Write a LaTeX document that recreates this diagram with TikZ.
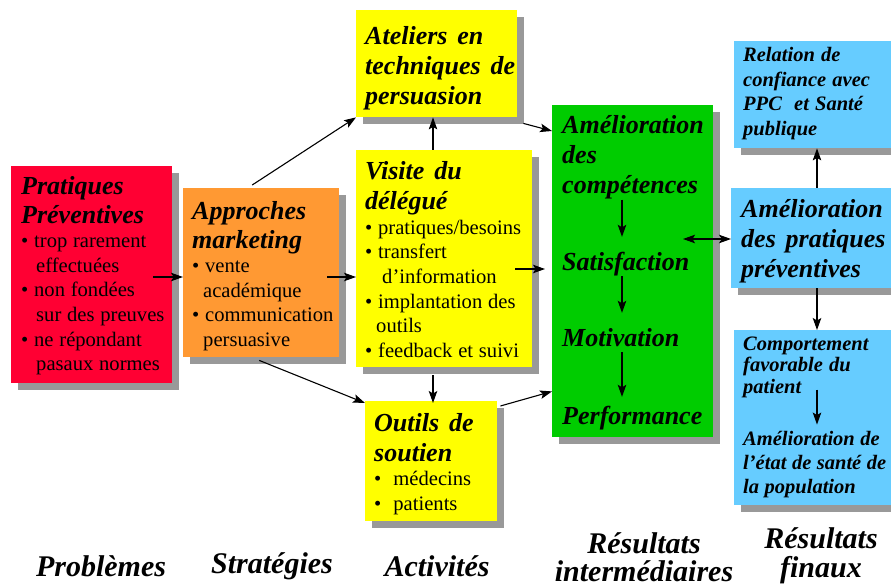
\documentclass[tikz,border=0pt]{standalone}
\usepackage{fontspec}
\setmainfont{Liberation Serif}
\usetikzlibrary{arrows.meta,shadows}
\definecolor{cred}{HTML}{FF0033}
\definecolor{corange}{HTML}{FF9933}
\definecolor{cyellow}{HTML}{FFFF00}
\definecolor{cgreen}{HTML}{00CC00}
\definecolor{cblue}{HTML}{66CCFF}
\definecolor{cshadow}{HTML}{999999}
\newcommand\hdfont[3]{\fontsize{#1}{#2}\selectfont\bfseries\itshape\spaceskip=#3em plus 0.1em\relax}
\newcommand\hd[1]{{\hdfont{26}{30}{0.38}#1\par}}
\newcommand\bl[1]{{\fontsize{20.6}{24.5}\selectfont\spaceskip=0.28em plus 0.1em\relax #1\par}}
\newcommand\cont{\hspace*{15pt}}
\begin{document}
\begin{tikzpicture}[x=1pt,y=-1pt,
  box/.style={anchor=north west, inner sep=0pt, draw=none,
    copy shadow={shadow xshift=7pt, shadow yshift=-7pt, fill=cshadow, draw=none}},
  txt/.style={anchor=base west, inner sep=0pt, align=left, text width=#1},
  txt/.default=190pt,
  lab/.style={inner sep=0pt, align=center, font=\fontsize{30}{28.5}\selectfont\bfseries\itshape},
  arr/.style={line width=1.1pt, -{Stealth[length=12pt,width=8.5pt,inset=2.5pt]}},
  darr/.style={line width=1.1pt, {Stealth[length=12pt,width=8.5pt,inset=2.5pt]}-{Stealth[length=12pt,width=8.5pt,inset=2.5pt]}}
]
\useasboundingbox (0,0) rectangle (891,588);
\clip (0,0) rectangle (891,588);

% boxes
\node[box, fill=cred, minimum width=161pt, minimum height=217pt] (red) at (11,166) {};
\node[box, fill=corange, minimum width=156pt, minimum height=169pt] (orange) at (183,188) {};
\node[box, fill=cyellow, minimum width=161pt, minimum height=107pt] (ateliers) at (356,10) {};
\node[box, fill=cyellow, minimum width=176pt, minimum height=217pt] (visite) at (356,150) {};
\node[box, fill=cyellow, minimum width=132pt, minimum height=120pt] (outils) at (365,401) {};
\node[box, fill=cgreen, minimum width=161pt, minimum height=332pt] (green) at (552,105) {};
\node[box, fill=cblue, minimum width=170pt, minimum height=107pt] (bt) at (734,41) {};
\node[box, fill=cblue, minimum width=173pt, minimum height=100pt] (bm) at (731,188) {};
\node[box, fill=cblue, minimum width=170pt, minimum height=175pt] (bb) at (734,330) {};

% texts
\node[txt] (redt) at (21,195) {{\hdfont{26}{28.5}{0.38}Pratiques\\Préventives\par}%
  \bl{• trop rarement\\\cont effectuées\\• non fondées\\\cont sur des preuves\\• ne répondant\\\cont pasaux normes}};
\node[txt] (orat) at (192,219) {{\hdfont{26}{29}{0.38}Approches\\marketing\par}%
  \bl{• vente\\\hspace*{11pt}académique\\• communication\\\hspace*{11pt}persuasive}};
\node[txt] (atet) at (365,45) {\hd{Ateliers en\\techniques de\\persuasion}};
\node[txt] (vist) at (365,180) {\hd{Visite du\\délégué}%
  \bl{• pratiques/besoins\\• transfert\\\hspace*{17pt}d’information\\• implantation des\\\hspace*{11pt}outils\\• feedback et suivi}};
\node[txt] (outt) at (374,431) {\hd{Outils de\\soutien}%
  \bl{•\hspace{12pt}médecins\\•\hspace{12pt}patients}};

\node[txt] (g1) at (562,134) {\hd{Amélioration\\des\\compétences}};
\node[txt, text height=18pt, text depth=6pt] (g2) at (562,270) {\hd{Satisfaction}};
\node[txt, text height=18pt, text depth=6pt] (g3) at (562,346) {\hd{Motivation}};
\node[txt, text height=18pt, text depth=6pt] (g4) at (562,424) {\hd{Performance}};

\node[txt] (btt) at (743,62) {{\hdfont{20.5}{24.5}{0.3}Relation de\\confiance avec\\PPC\ \ et Santé\\publique\par}};
\node[txt] (bmt) at (741,217) {\hd{Amélioration\\des pratiques\\préventives}};
\node[txt] (b1) at (743,350) {{\hdfont{20.5}{21.5}{0.3}Comportement\\favorable du\\patient\par}};
\node[txt] (b2) at (743,445) {{\hdfont{20.5}{24}{0.27}Amélioration de\\l’état de santé de\\la population\par}};

% bottom labels
\node[lab] (l1) at (101,566) {Problèmes};
\node[lab] (l2) at (272,566) {Stratégies};
\node[lab] (l3) at (437,566) {Activités};
\node[lab] (l4) at (644,557) {Résultats\\intermédiaires};
\node[lab] (l5) at (821,556) {Résultats\\finaux};

% helper coordinates
\coordinate (rs) at (153,277);
\coordinate (os) at (327,277);
\coordinate (vs) at (515,269);
\coordinate (vx) at (433,0);
\coordinate (ga) at (622,0);
\coordinate (bx) at (817,0);
\coordinate (dl) at (683,239);

% connectors
\draw[arr] (rs) -- (rs -| orange.west);
\draw[arr] (os) -- (os -| visite.west);
\draw[arr] ([shift={(-9,-3)}]orange.north) -- (ateliers.south west);
\draw[arr] ([shift={(-2,3)}]orange.south) -- ([shift={(0,2)}]outils.north west);
\draw[arr] (visite.north -| vx) -- (ateliers.south -| vx);
\draw[arr] ([shift={(0,8)}]visite.south -| vx) -- ([shift={(0,2)}]outils.north -| vx);
\draw[arr] ([shift={(6,6)}]ateliers.south east) -- ([shift={(0,26)}]green.north west);
\draw[arr] (vs) -- ([shift={(-7,0)}]vs -| green.west);
\draw[arr] ([shift={(3,5)}]outils.north east) -- ([shift={(0,-46)}]green.south west);

\draw[arr, shorten >=15pt] (g1.south -| ga) -- (g2.north -| ga);
\draw[arr, shorten >=15pt] (g2.south -| ga) -- (g3.north -| ga);
\draw[arr, shorten >=9pt] (g3.south -| ga) -- (g4.north -| ga);

\draw[darr] (dl) -- (dl -| bm.west);
\draw[arr] (bm.north -| bx) -- (bt.south -| bx);
\draw[arr] (bm.south -| bx) -- (bb.north -| bx);
\draw[arr, shorten <=-8pt, shorten >=6pt] (b1.south -| bx) -- (b2.north -| bx);
\end{tikzpicture}
\end{document}
